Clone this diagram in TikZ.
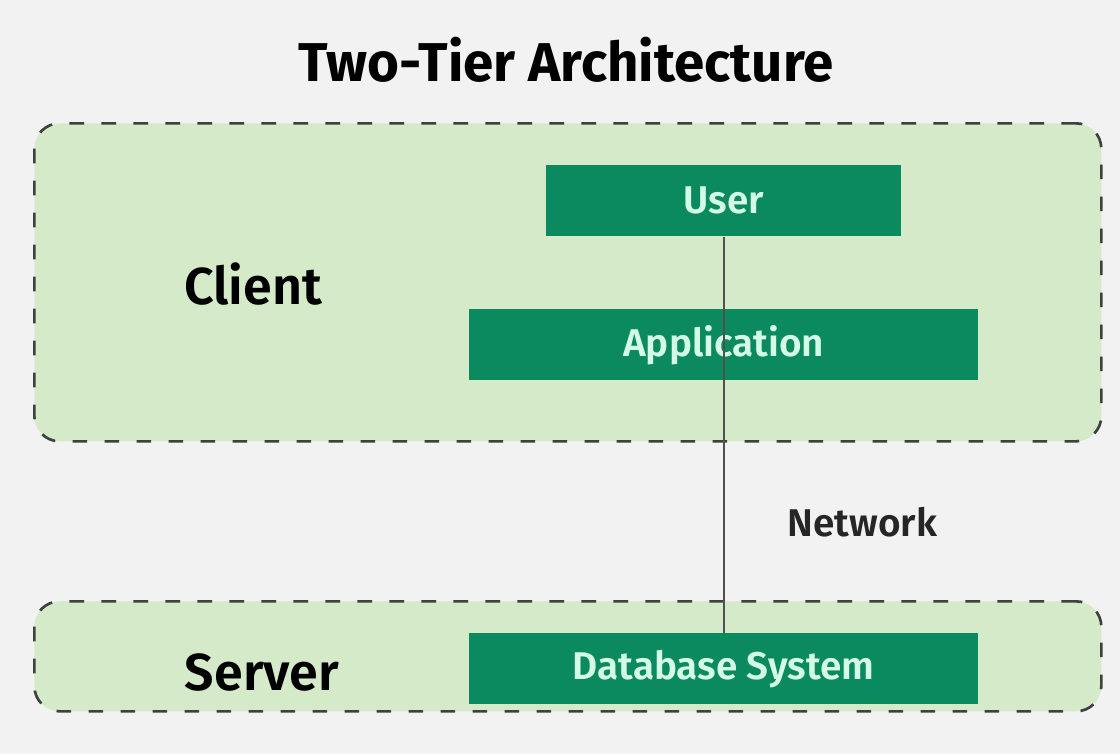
\documentclass[tikz,border=0pt]{standalone}
\usepackage{fontspec}
\setmainfont{Fira Sans}
\newfontfamily\semifont{Fira Sans SemiBold}
\definecolor{pagebg}{HTML}{F2F2F2}
\definecolor{tierfill}{HTML}{D4EAC8}
\definecolor{tierline}{HTML}{3E423E}
\definecolor{boxgreen}{HTML}{0A8A5E}
\definecolor{boxtext}{HTML}{D4FBE6}
\definecolor{linkgray}{HTML}{505050}
\tikzset{
  tier/.style={draw=tierline, fill=tierfill, line width=2pt, dash pattern=on 11pt off 13pt, rounded corners=19pt},
  compbox/.style={fill=boxgreen, text=boxtext, font=\fontsize{29}{34}\semifont, inner sep=0pt, anchor=north west},
  tiername/.style={font=\fontsize{39}{44}\semifont, text=black},
  link/.style={draw=linkgray, line width=1.5pt}
}
\begin{document}
\begin{tikzpicture}[x=0.75pt, y=-0.75pt]
  \fill[pagebg] (0,0) rectangle (1120,754);
  \useasboundingbox (0,0) rectangle (1120,754);
  % title
  \node[font=\fontsize{41}{46}\selectfont\bfseries] (title) at (566,60) {Two-Tier Architecture};
  % tiers
  \node[tier, minimum width=1067*0.75pt, minimum height=318*0.75pt, anchor=north west] (client) at (33,122) {};
  \node[tier, minimum width=1067*0.75pt, minimum height=110*0.75pt, anchor=north west] (server) at (33,600) {};
  \node[tiername] (clientlbl) at (253,284) {Client};
  \node[tiername] (serverlbl) at (262,672) {Server};
  % components
  \node[compbox, minimum width=355*0.75pt, minimum height=71*0.75pt] (user) at (546,165) {User};
  \node[compbox, minimum width=509*0.75pt, minimum height=71*0.75pt] (app) at (469,309) {Application};
  \node[compbox, minimum width=509*0.75pt, minimum height=71*0.75pt] (db) at (469,633) {Database System};
  % network connection, one line through the client boxes down to the database
  \coordinate (ux) at (724,0);
  \draw[link] (user.south -| ux) -- (db.north -| ux);
  \node[font=\fontsize{29}{34}\semifont, text=black!85, anchor=west] (net) at (783,522) {Network};
\end{tikzpicture}
\end{document}
